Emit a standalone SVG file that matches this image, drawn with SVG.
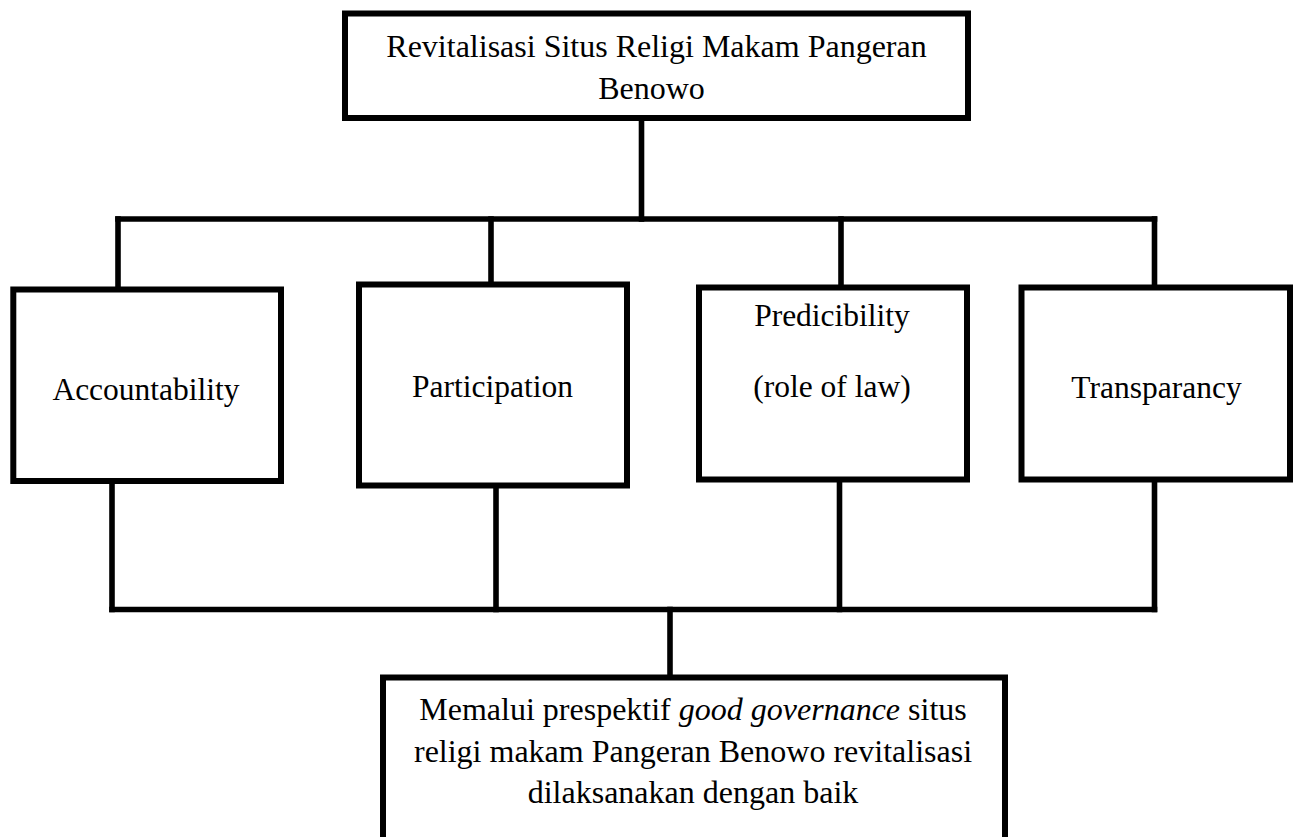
<svg xmlns="http://www.w3.org/2000/svg" width="1299" height="837" viewBox="0 0 1299 837">
<style>
.box{fill:#fff;stroke:#000;stroke-width:6}
.ln{fill:none;stroke:#000;stroke-width:5.6;stroke-linecap:square}
.t{font-family:"Liberation Serif","Times New Roman",serif;font-size:31.5px;fill:#000;text-anchor:middle}
.b{font-size:32px}
.i{font-style:italic}
</style>
<rect width="1299" height="837" fill="#fff"/>
<g id="connectors">
<path class="ln" d="M641.5 121 V219"/>
<path class="ln" d="M118 219 H1154.5"/>
<path class="ln" d="M118 219 V286"/>
<path class="ln" d="M491 219 V281"/>
<path class="ln" d="M841 219 V284"/>
<path class="ln" d="M1154.5 219 V284"/>
<path class="ln" d="M112 484 V609.5"/>
<path class="ln" d="M496 488 V609.5"/>
<path class="ln" d="M839.5 482 V609.5"/>
<path class="ln" d="M1154.5 482 V609.5"/>
<path class="ln" d="M112 609.5 H1154.5"/>
<path class="ln" d="M670 609.5 V675"/>
</g>
<g id="n-top">
<rect class="box" x="345" y="13.5" width="623" height="104.5"/>
<text class="t b" x="656.5" y="57">Revitalisasi Situs Religi Makam Pangeran</text>
<text class="t b" x="651.5" y="98.5">Benowo</text>
</g>
<g id="n-accountability">
<rect class="box" x="13.3" y="289.5" width="267.7" height="191.5"/>
<text class="t" x="146" y="400">Accountability</text>
</g>
<g id="n-participation">
<rect class="box" x="359" y="284.5" width="268" height="201"/>
<text class="t" x="492.5" y="397">Participation</text>
</g>
<g id="n-predicibility">
<rect class="box" x="699" y="287.5" width="268" height="192"/>
<text class="t" x="832" y="326">Predicibility</text>
<text class="t" x="832" y="397">(role of law)</text>
</g>
<g id="n-transparancy">
<rect class="box" x="1021.5" y="287.5" width="268.5" height="192"/>
<text class="t" x="1156.5" y="397.5">Transparancy</text>
</g>
<g id="n-result">
<rect class="box" x="383" y="677.5" width="622" height="200"/>
<text class="t b" x="693" y="720">Memalui prespektif <tspan class="i">good governance</tspan> situs</text>
<text class="t b" x="693" y="761.7">religi makam Pangeran Benowo revitalisasi</text>
<text class="t b" x="693" y="803.4">dilaksanakan dengan baik</text>
</g>
</svg>
